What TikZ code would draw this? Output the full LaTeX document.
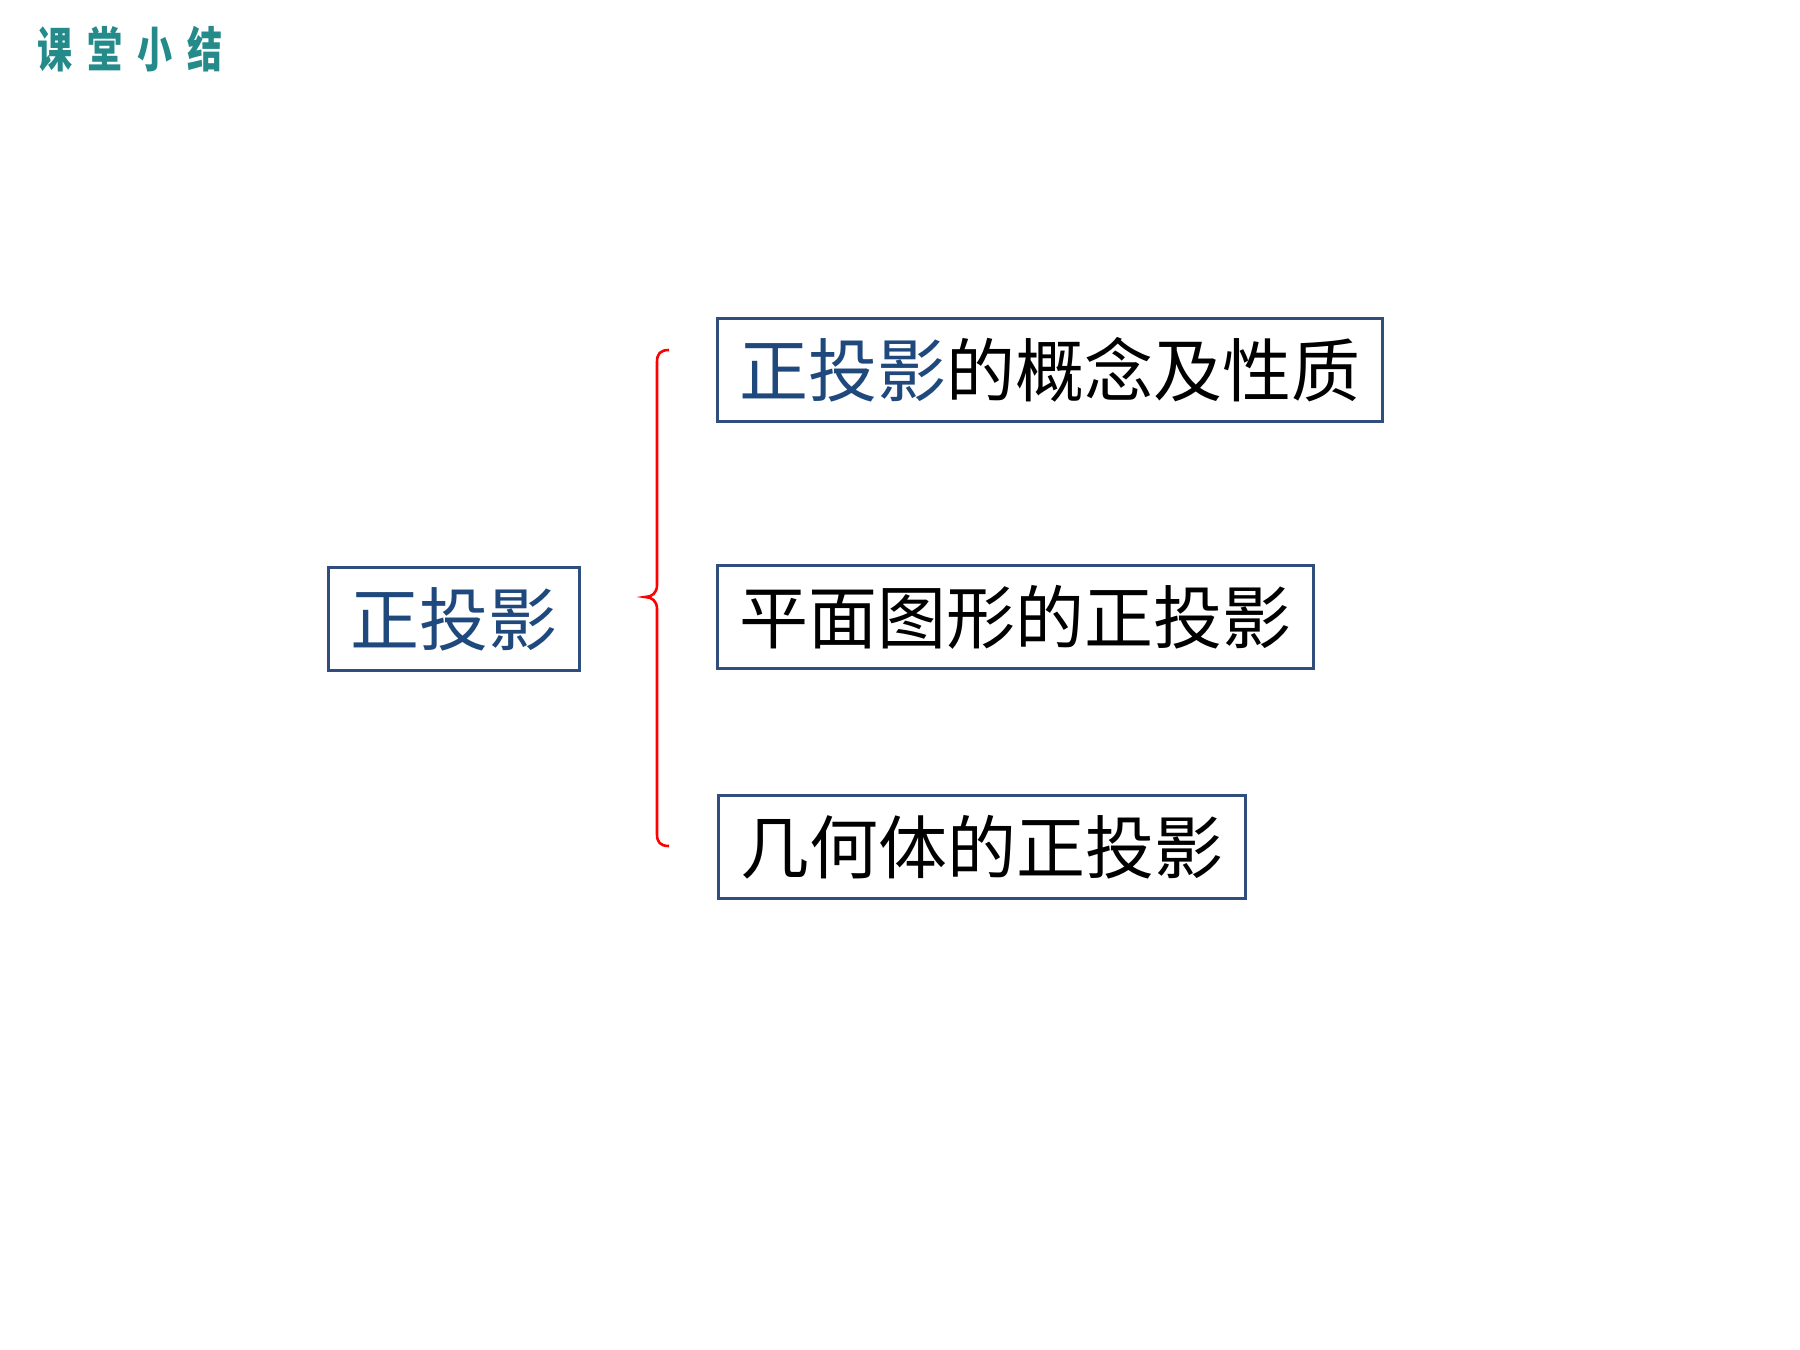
\documentclass[tikz,border=0pt]{standalone}
\usepackage{fontspec}
\newfontfamily\cjk{Noto Sans CJK SC}
\definecolor{boxblue}{RGB}{47,77,125}
\definecolor{textblue}{RGB}{31,73,125}
\definecolor{titleteal}{RGB}{36,138,138}
\newcommand{\tchar}[1]{\scalebox{0.73}[1]{#1}}
\begin{document}
\begin{tikzpicture}[
    x=0.5pt, y=-0.5pt,
    topic/.style={rectangle, draw=boxblue, line width=1.5pt, font=\cjk\fontsize{34.5pt}{40pt}\selectfont, inner xsep=11pt, minimum height=51.5pt, anchor=west},
    brace/.style={red, line width=1.3pt},
]
\useasboundingbox (0,0) rectangle (1800,1350);
% Title
\node[font=\cjk\bfseries\fontsize{24pt}{28pt}\selectfont, text=titleteal, anchor=west, inner sep=0pt] (title) at (37,49) {\tchar{课}\hspace{7.5pt}\tchar{堂}\hspace{7.5pt}\tchar{小}\hspace{7.5pt}\tchar{结}};
% Root
\node[topic, anchor=center, text=textblue] (root) at (454,619) {正投影};
% Branches
\node[topic] (concept) at (716,370) {\textcolor{textblue}{正投影}的概念及性质};
\node[topic] (plane) at (716,617) {平面图形的正投影};
\node[topic] (solid) at (717,847) {几何体的正投影};

% Brace
\coordinate (bt) at (669,350);
\coordinate (bm) at (645,597);
\coordinate (bb) at (669,846);
\draw[brace] (bt) .. controls (660,350) and (657,354) .. (657,362) -- (657,585)
    .. controls (657,593) and (652,597) .. (bm)
    .. controls (652,597) and (657,601) .. (657,609) -- (657,834)
    .. controls (657,842) and (660,846) .. (bb);
\end{tikzpicture}
\end{document}
